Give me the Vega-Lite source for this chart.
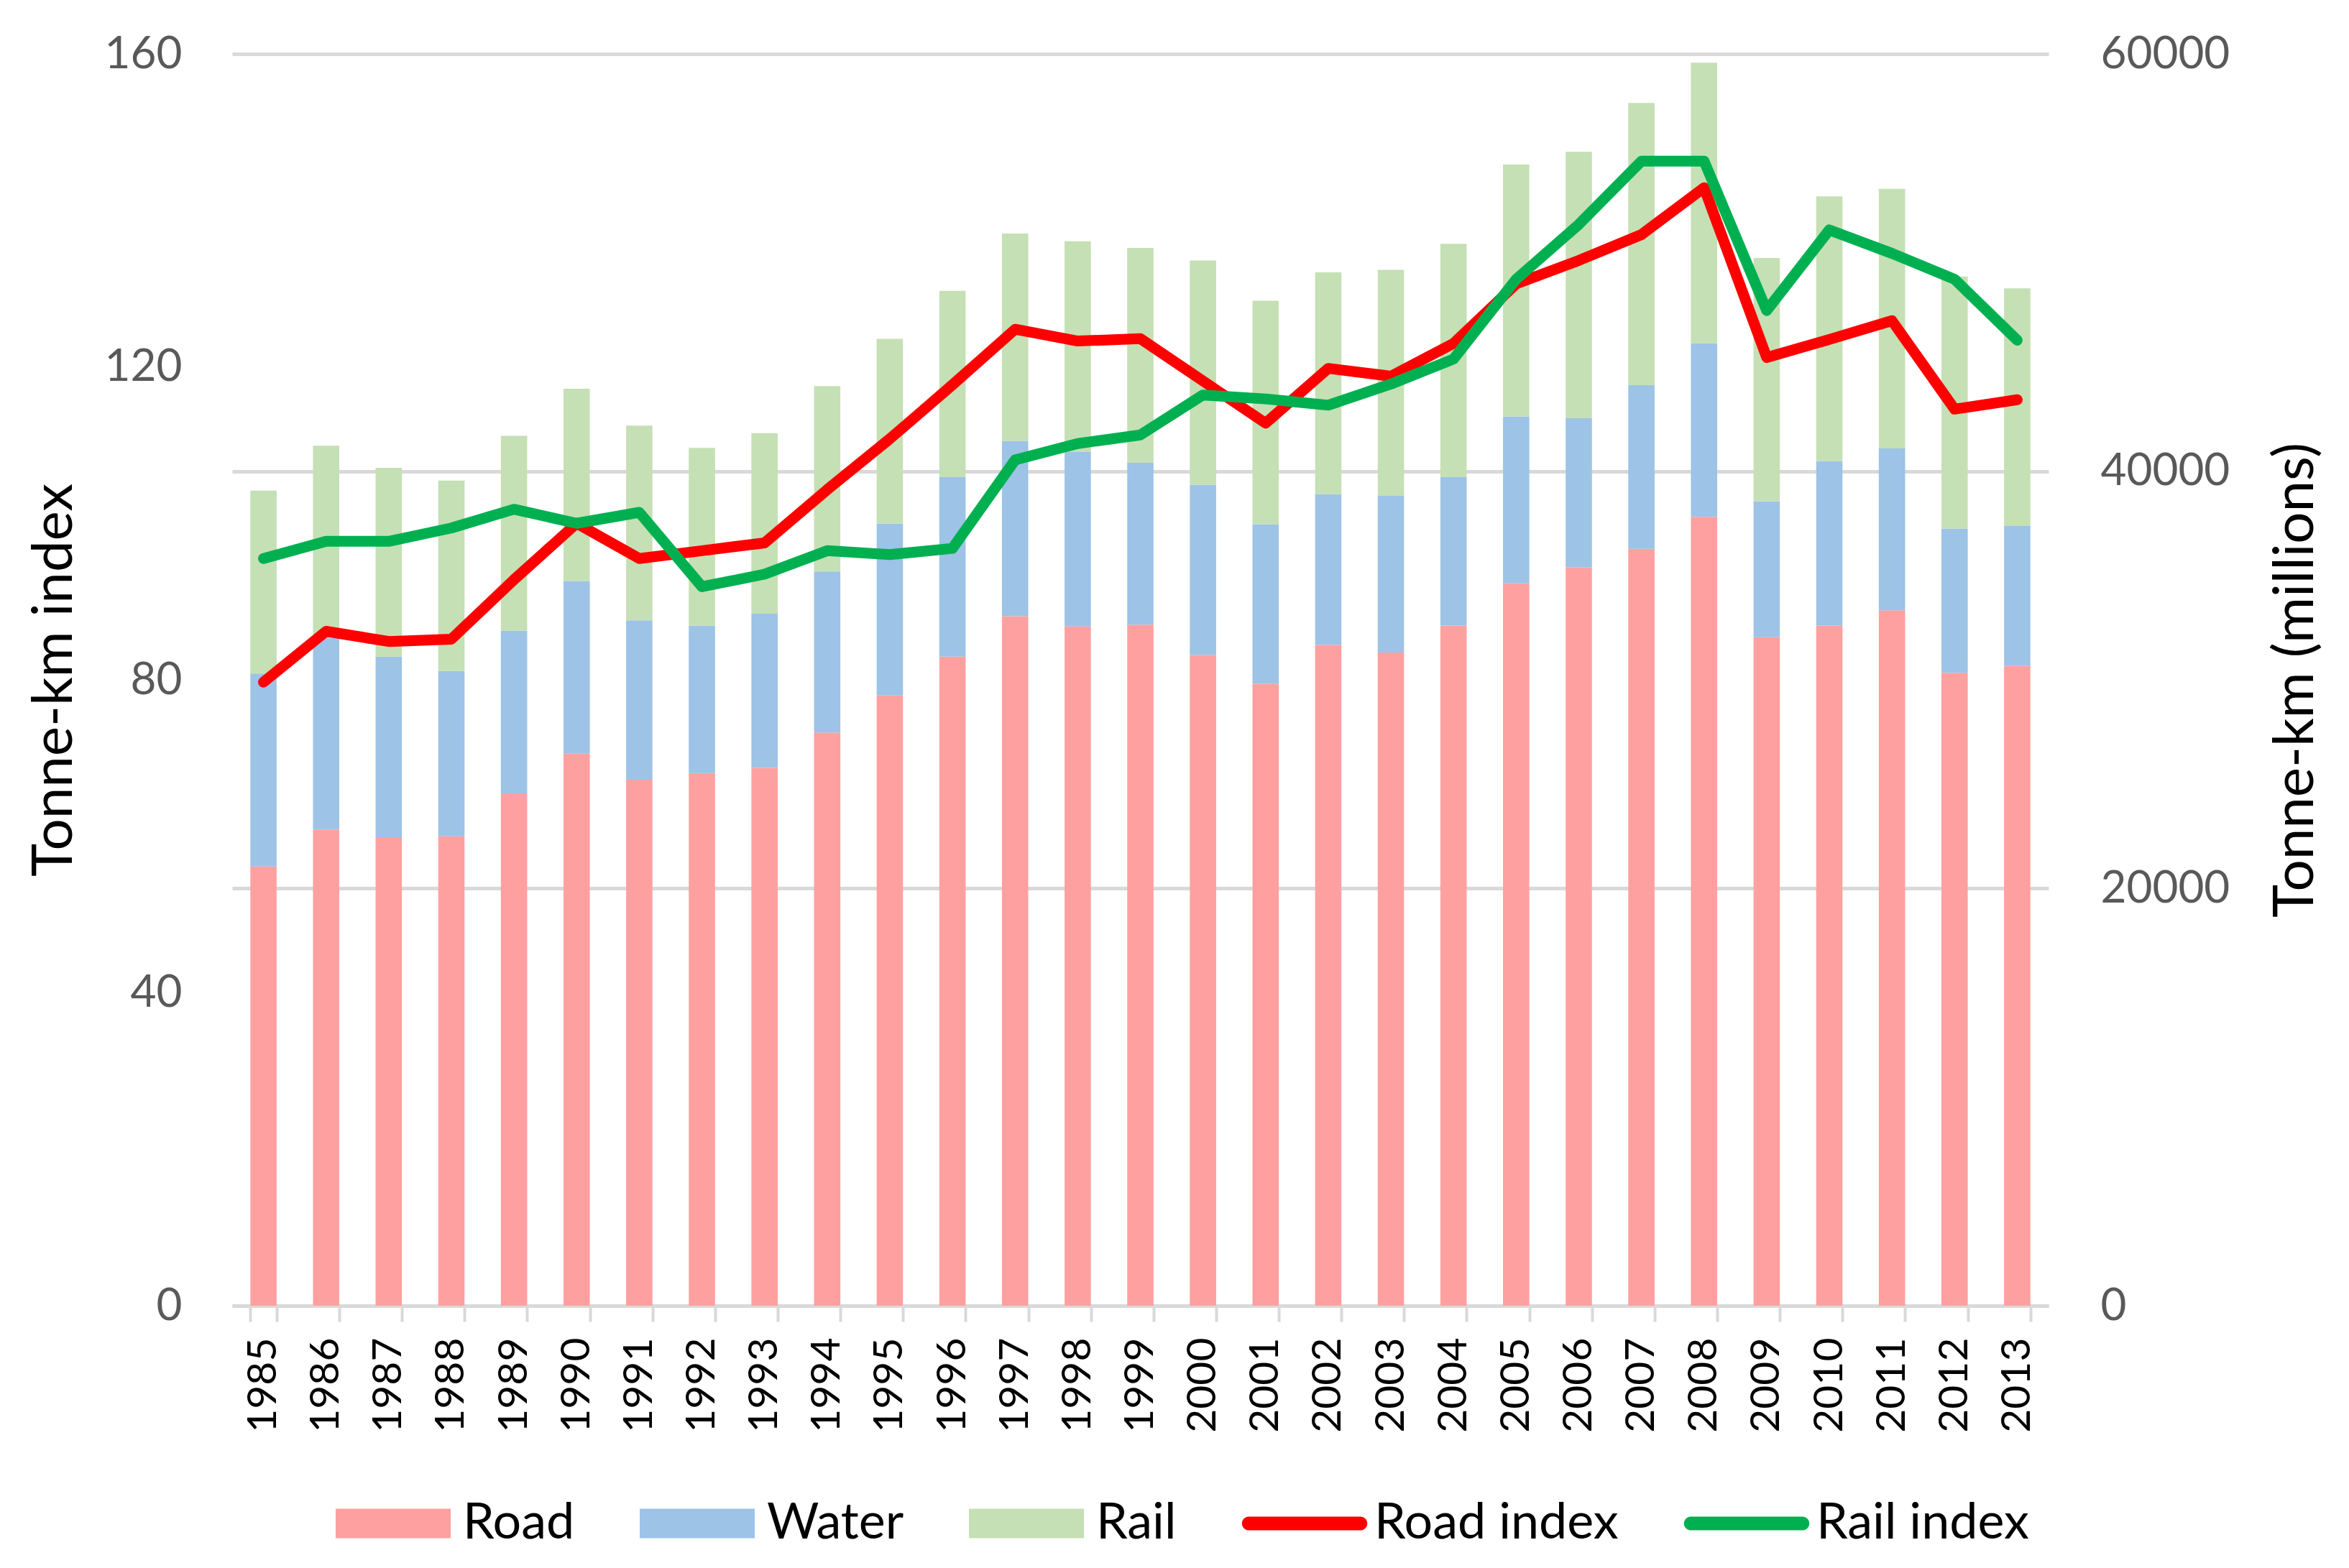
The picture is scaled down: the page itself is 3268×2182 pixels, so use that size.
{
  "$schema": "https://vega.github.io/schema/vega-lite/v6.json",
  "width": 2527,
  "height": 1742,
  "autosize": {"type": "none"},
  "padding": {"left": 323, "top": 75, "right": 418, "bottom": 365},
  "background": "white",
  "datasets": {
    "freight": [
      {"year": 1985, "Road": 21050, "Water": 9250, "Rail": 8770},
      {"year": 1986, "Road": 22830, "Water": 9180, "Rail": 9210},
      {"year": 1987, "Road": 22420, "Water": 8690, "Rail": 9050},
      {"year": 1988, "Road": 22500, "Water": 7920, "Rail": 9130},
      {"year": 1989, "Road": 24520, "Water": 7840, "Rail": 9330},
      {"year": 1990, "Road": 26460, "Water": 8280, "Rail": 9210},
      {"year": 1991, "Road": 25210, "Water": 7640, "Rail": 9330},
      {"year": 1992, "Road": 25530, "Water": 7070, "Rail": 8520},
      {"year": 1993, "Road": 25780, "Water": 7390, "Rail": 8650},
      {"year": 1994, "Road": 27470, "Water": 7720, "Rail": 8890},
      {"year": 1995, "Road": 29250, "Water": 8240, "Rail": 8850},
      {"year": 1996, "Road": 31110, "Water": 8600, "Rail": 8930},
      {"year": 1997, "Road": 33050, "Water": 8400, "Rail": 9940},
      {"year": 1998, "Road": 32560, "Water": 8360, "Rail": 10100},
      {"year": 1999, "Road": 32640, "Water": 7760, "Rail": 10300},
      {"year": 2000, "Road": 31190, "Water": 8160, "Rail": 10750},
      {"year": 2001, "Road": 29820, "Water": 7640, "Rail": 10710},
      {"year": 2002, "Road": 31670, "Water": 7230, "Rail": 10630},
      {"year": 2003, "Road": 31310, "Water": 7510, "Rail": 10830},
      {"year": 2004, "Road": 32600, "Water": 7110, "Rail": 11190},
      {"year": 2005, "Road": 34620, "Water": 8000, "Rail": 12080},
      {"year": 2006, "Road": 35390, "Water": 7150, "Rail": 12770},
      {"year": 2007, "Road": 36280, "Water": 7840, "Rail": 13530},
      {"year": 2008, "Road": 37810, "Water": 8320, "Rail": 13450},
      {"year": 2009, "Road": 32040, "Water": 6510, "Rail": 11670},
      {"year": 2010, "Road": 32600, "Water": 7880, "Rail": 12690},
      {"year": 2011, "Road": 33330, "Water": 7760, "Rail": 12440},
      {"year": 2012, "Road": 30340, "Water": 6910, "Rail": 12080},
      {"year": 2013, "Road": 30660, "Water": 6710, "Rail": 11390}
    ],
    "indices": [
      {"year": 1985, "Road index": 79.7, "Rail index": 95.5},
      {"year": 1986, "Road index": 86.2, "Rail index": 97.7},
      {"year": 1987, "Road index": 84.9, "Rail index": 97.7},
      {"year": 1988, "Road index": 85.2, "Rail index": 99.4},
      {"year": 1989, "Road index": 92.8, "Rail index": 101.8},
      {"year": 1990, "Road index": 100.0, "Rail index": 100.0},
      {"year": 1991, "Road index": 95.5, "Rail index": 101.4},
      {"year": 1992, "Road index": 96.5, "Rail index": 91.9},
      {"year": 1993, "Road index": 97.5, "Rail index": 93.5},
      {"year": 1994, "Road index": 104.3, "Rail index": 96.5},
      {"year": 1995, "Road index": 110.8, "Rail index": 96.0},
      {"year": 1996, "Road index": 117.7, "Rail index": 96.8},
      {"year": 1997, "Road index": 124.8, "Rail index": 108.1},
      {"year": 1998, "Road index": 123.3, "Rail index": 110.2},
      {"year": 1999, "Road index": 123.6, "Rail index": 111.3},
      {"year": 2000, "Road index": 118.2, "Rail index": 116.4},
      {"year": 2001, "Road index": 112.8, "Rail index": 115.9},
      {"year": 2002, "Road index": 119.8, "Rail index": 115.1},
      {"year": 2003, "Road index": 118.8, "Rail index": 117.8},
      {"year": 2004, "Road index": 123.0, "Rail index": 121.0},
      {"year": 2005, "Road index": 130.6, "Rail index": 131.2},
      {"year": 2006, "Road index": 133.6, "Rail index": 138.2},
      {"year": 2007, "Road index": 136.9, "Rail index": 146.3},
      {"year": 2008, "Road index": 142.9, "Rail index": 146.3},
      {"year": 2009, "Road index": 121.2, "Rail index": 127.2},
      {"year": 2010, "Road index": 123.5, "Rail index": 137.5},
      {"year": 2011, "Road index": 125.9, "Rail index": 134.5},
      {"year": 2012, "Road index": 114.6, "Rail index": 131.2},
      {"year": 2013, "Road index": 115.8, "Rail index": 123.4}
    ],
    "stackrank": [
      {"series": "Road", "rank": 0},
      {"series": "Water", "rank": 1},
      {"series": "Rail", "rank": 2}
    ]
  },
  "layer": [
    {
      "data": {"name": "freight"},
      "transform": [
        {"fold": ["Road", "Water", "Rail"], "as": ["series", "tkm"]},
        {"lookup": "series", "from": {"data": {"name": "stackrank"}, "key": "series", "fields": ["rank"]}}
      ],
      "mark": {"type": "bar"},
      "encoding": {
        "x": {
          "field": "year", "type": "ordinal",
          "scale": {"paddingInner": 0.58, "paddingOuter": 0.29},
          "axis": {"title": null}
        },
        "y": {
          "field": "tkm", "type": "quantitative", "stack": "zero",
          "scale": {"domain": [0, 60000], "nice": false},
          "axis": {
            "orient": "right", "values": [0, 20000, 40000, 60000], "format": "d",
            "title": "Tonne-km (millions)", "grid": true, "gridColor": "#D9D9D9", "gridWidth": 5,
            "labelPadding": 72, "titlePadding": 105, "titleAngle": 270, "titleBaseline": "top"
          }
        },
        "color": {
          "field": "series", "type": "nominal",
          "scale": {
            "domain": ["Road", "Water", "Rail", "Road index", "Rail index"],
            "range": ["#FFA0A0", "#9DC3E6", "#C5E0B4", "#FF0000", "#00B050"]
          },
          "legend": {
            "orient": "none", "legendX": 144, "legendY": 1965,
            "direction": "horizontal", "columns": 5, "title": null,
            "symbolSize": 25600, "symbolStrokeWidth": 0, "labelFontSize": 70, "labelColor": "#000000",
            "labelOffset": 17, "columnPadding": 90, "labelLimit": 1000,
            "encode": {
              "symbols": {
                "update": {
                  "shape": {"signal": "(datum.value == 'Road index' || datum.value == 'Rail index') ? 'M-0.97,-0.12H0.97A0.12,0.12,0,0,1,0.97,0.12H-0.97A0.12,0.12,0,0,1,-0.97,-0.12Z' : 'M-1,-0.256H1V0.256H-1Z'"},
                  "fill": {"scale": "color", "field": "value"},
                  "strokeWidth": {"value": 0},
                  "opacity": {"value": 1}
                }
              }
            }
          }
        },
        "order": {"field": "rank", "type": "quantitative"}
      }
    },
    {
      "data": {"name": "indices"},
      "transform": [
        {"fold": ["Road index", "Rail index"], "as": ["series", "index"]}
      ],
      "mark": {"type": "line", "strokeWidth": 15, "strokeCap": "round", "strokeJoin": "round"},
      "encoding": {
        "x": {"field": "year", "type": "ordinal", "axis": {"title": null}},
        "y": {
          "field": "index", "type": "quantitative",
          "scale": {"domain": [0, 160], "nice": false},
          "axis": {
            "orient": "left", "values": [0, 40, 80, 120, 160], "grid": false,
            "title": "Tonne-km index", "labelPadding": 70, "titlePadding": 30
          }
        },
        "color": {"field": "series", "type": "nominal"}
      }
    }
  ],
  "resolve": {"scale": {"y": "independent"}},
  "config": {
    "font": "Lato",
    "view": {"stroke": null},
    "axisX": {
      "domainColor": "#D9D9D9", "domainWidth": 5,
      "tickColor": "#D9D9D9", "tickWidth": 4, "tickSize": 22, "tickBand": "extent",
      "labelPadding": 22, "labelAngle": -90, "labelFontSize": 57, "labelColor": "#000000",
      "labelFont": "Lato", "grid": false
    },
    "axisY": {
      "domain": false, "ticks": false, "tickSize": 0,
      "labelFontSize": 62, "labelColor": "#595959", "labelFont": "Lato",
      "titleFontSize": 78, "titleFontWeight": "normal", "titleColor": "#000000", "titleFont": "Lato"
    }
  }
}
